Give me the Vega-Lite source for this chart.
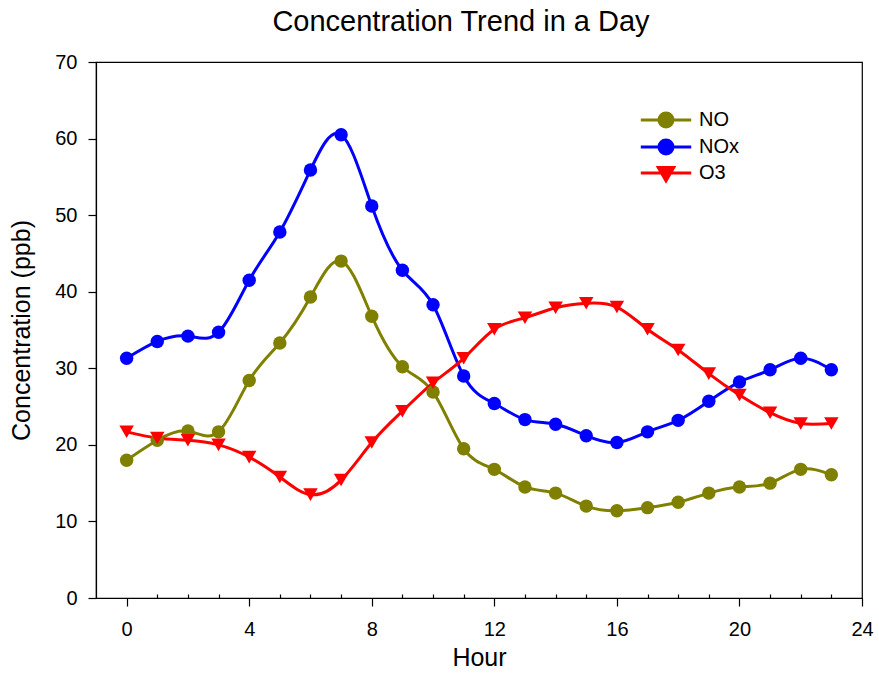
{
  "$schema": "https://vega.github.io/schema/vega-lite/v6.json",
  "width": 766,
  "height": 536,
  "autosize": {"type": "none"},
  "padding": {"left": 96, "top": 62, "right": 17, "bottom": 77},
  "background": "white",
  "title": {
    "text": "Concentration Trend in a Day",
    "font": "Liberation Sans",
    "fontSize": 29,
    "fontWeight": "normal",
    "color": "black",
    "anchor": "middle",
    "dx": -18,
    "offset": 15
  },
  "config": {
    "view": {"stroke": "black", "strokeWidth": 1.2},
    "axis": {
      "labelFont": "Liberation Sans",
      "titleFont": "Liberation Sans",
      "labelFontSize": 20,
      "titleFontSize": 25,
      "titleFontWeight": "normal",
      "labelColor": "black",
      "titleColor": "black",
      "domainColor": "black",
      "tickColor": "black",
      "domainWidth": 1.2,
      "tickWidth": 1.2,
      "grid": false
    }
  },
  "data": {
    "values": [
      {"hour": 0, "series": "NO", "value": 18.0},
      {"hour": 1, "series": "NO", "value": 20.6},
      {"hour": 2, "series": "NO", "value": 21.8},
      {"hour": 3, "series": "NO", "value": 21.7},
      {"hour": 4, "series": "NO", "value": 28.4},
      {"hour": 5, "series": "NO", "value": 33.3},
      {"hour": 6, "series": "NO", "value": 39.3},
      {"hour": 7, "series": "NO", "value": 44.0},
      {"hour": 8, "series": "NO", "value": 36.8},
      {"hour": 9, "series": "NO", "value": 30.2},
      {"hour": 10, "series": "NO", "value": 26.9},
      {"hour": 11, "series": "NO", "value": 19.5},
      {"hour": 12, "series": "NO", "value": 16.8},
      {"hour": 13, "series": "NO", "value": 14.5},
      {"hour": 14, "series": "NO", "value": 13.7},
      {"hour": 15, "series": "NO", "value": 12.0},
      {"hour": 16, "series": "NO", "value": 11.4},
      {"hour": 17, "series": "NO", "value": 11.8},
      {"hour": 18, "series": "NO", "value": 12.5},
      {"hour": 19, "series": "NO", "value": 13.7},
      {"hour": 20, "series": "NO", "value": 14.5},
      {"hour": 21, "series": "NO", "value": 15.0},
      {"hour": 22, "series": "NO", "value": 16.8},
      {"hour": 23, "series": "NO", "value": 16.1},
      {"hour": 0, "series": "NOx", "value": 31.3},
      {"hour": 1, "series": "NOx", "value": 33.5},
      {"hour": 2, "series": "NOx", "value": 34.2},
      {"hour": 3, "series": "NOx", "value": 34.7},
      {"hour": 4, "series": "NOx", "value": 41.5},
      {"hour": 5, "series": "NOx", "value": 47.8},
      {"hour": 6, "series": "NOx", "value": 55.9},
      {"hour": 7, "series": "NOx", "value": 60.5},
      {"hour": 8, "series": "NOx", "value": 51.2},
      {"hour": 9, "series": "NOx", "value": 42.8},
      {"hour": 10, "series": "NOx", "value": 38.3},
      {"hour": 11, "series": "NOx", "value": 29.0},
      {"hour": 12, "series": "NOx", "value": 25.4},
      {"hour": 13, "series": "NOx", "value": 23.3},
      {"hour": 14, "series": "NOx", "value": 22.7},
      {"hour": 15, "series": "NOx", "value": 21.2},
      {"hour": 16, "series": "NOx", "value": 20.3},
      {"hour": 17, "series": "NOx", "value": 21.7},
      {"hour": 18, "series": "NOx", "value": 23.2},
      {"hour": 19, "series": "NOx", "value": 25.7},
      {"hour": 20, "series": "NOx", "value": 28.2},
      {"hour": 21, "series": "NOx", "value": 29.8},
      {"hour": 22, "series": "NOx", "value": 31.3},
      {"hour": 23, "series": "NOx", "value": 29.8},
      {"hour": 0, "series": "O3", "value": 21.7},
      {"hour": 1, "series": "O3", "value": 20.9},
      {"hour": 2, "series": "O3", "value": 20.6},
      {"hour": 3, "series": "O3", "value": 20.0},
      {"hour": 4, "series": "O3", "value": 18.4},
      {"hour": 5, "series": "O3", "value": 15.8},
      {"hour": 6, "series": "O3", "value": 13.5},
      {"hour": 7, "series": "O3", "value": 15.4},
      {"hour": 8, "series": "O3", "value": 20.3},
      {"hour": 9, "series": "O3", "value": 24.4},
      {"hour": 10, "series": "O3", "value": 28.1},
      {"hour": 11, "series": "O3", "value": 31.3},
      {"hour": 12, "series": "O3", "value": 35.1},
      {"hour": 13, "series": "O3", "value": 36.6},
      {"hour": 14, "series": "O3", "value": 37.9},
      {"hour": 15, "series": "O3", "value": 38.5},
      {"hour": 16, "series": "O3", "value": 38.0},
      {"hour": 17, "series": "O3", "value": 35.1},
      {"hour": 18, "series": "O3", "value": 32.4},
      {"hour": 19, "series": "O3", "value": 29.3},
      {"hour": 20, "series": "O3", "value": 26.5},
      {"hour": 21, "series": "O3", "value": 24.2},
      {"hour": 22, "series": "O3", "value": 22.8},
      {"hour": 23, "series": "O3", "value": 22.8}
    ]
  },
  "encoding": {
    "x": {
      "field": "hour",
      "type": "quantitative",
      "scale": {"domain": [-1, 24], "nice": false, "zero": false},
      "axis": {
        "title": "Hour",
        "values": [0,1,2,3,4,5,6,7,8,9,10,11,12,13,14,15,16,17,18,19,20,21,22,23,24],
        "labelExpr": "datum.value % 4 === 0 ? datum.label : ''",
        "tickSize": {"condition": {"test": "datum.value % 4 === 0", "value": 8}, "value": -4},
        "labelPadding": 13,
        "titlePadding": 6,
        "labelFlush": false
      }
    },
    "y": {
      "field": "value",
      "type": "quantitative",
      "scale": {"domain": [0, 70], "nice": false},
      "axis": {
        "title": "Concentration (ppb)",
        "values": [0,10,20,30,40,50,60,70],
        "tickSize": 8,
        "labelPadding": 11,
        "titlePadding": 20,
        "labelFlush": false
      }
    },
    "color": {
      "field": "series",
      "type": "nominal",
      "scale": {"domain": ["NO", "NOx", "O3"], "range": ["#808000", "#0000ff", "#ff0000"]},
      "legend": {
        "title": null,
        "orient": "none",
        "legendX": 560,
        "legendY": 48,
        "padding": 0,
        "symbolSize": 196,
        "labelFont": "Liberation Sans",
        "labelFontSize": 20,
        "labelColor": "black",
        "labelOffset": 23,
        "rowPadding": 1,
        "encode": {
          "symbols": {
            "update": {
              "shape": {"signal": "datum.value === 'O3' ? 'M-3.6,0L3.6,0M-1.1,-0.8L1.1,-0.8L0,1.1Z' : 'M-3.6,0L3.6,0M-1,0A1,1 0 1,1 1,0A1,1 0 1,1 -1,0Z'"},
              "fill": {"signal": "datum.value === 'NO' ? '#808000' : datum.value === 'NOx' ? '#0000ff' : '#ff0000'"},
              "stroke": {"signal": "datum.value === 'NO' ? '#808000' : datum.value === 'NOx' ? '#0000ff' : '#ff0000'"},
              "strokeWidth": {"value": 3},
              "opacity": {"value": 1},
              "fillOpacity": {"value": 1},
              "strokeOpacity": {"value": 1}
            }
          }
        }
      }
    }
  },
  "layer": [
    {
      "mark": {"type": "line", "interpolate": "natural", "strokeWidth": 3}
    },
    {
      "transform": [{"filter": "datum.series !== 'O3'"}],
      "mark": {"type": "point", "shape": "circle", "filled": true, "opacity": 1, "size": 180}
    },
    {
      "transform": [{"filter": "datum.series === 'O3'"}],
      "mark": {"type": "point", "shape": "triangle-down", "filled": true, "opacity": 1, "size": 210}
    }
  ]
}
